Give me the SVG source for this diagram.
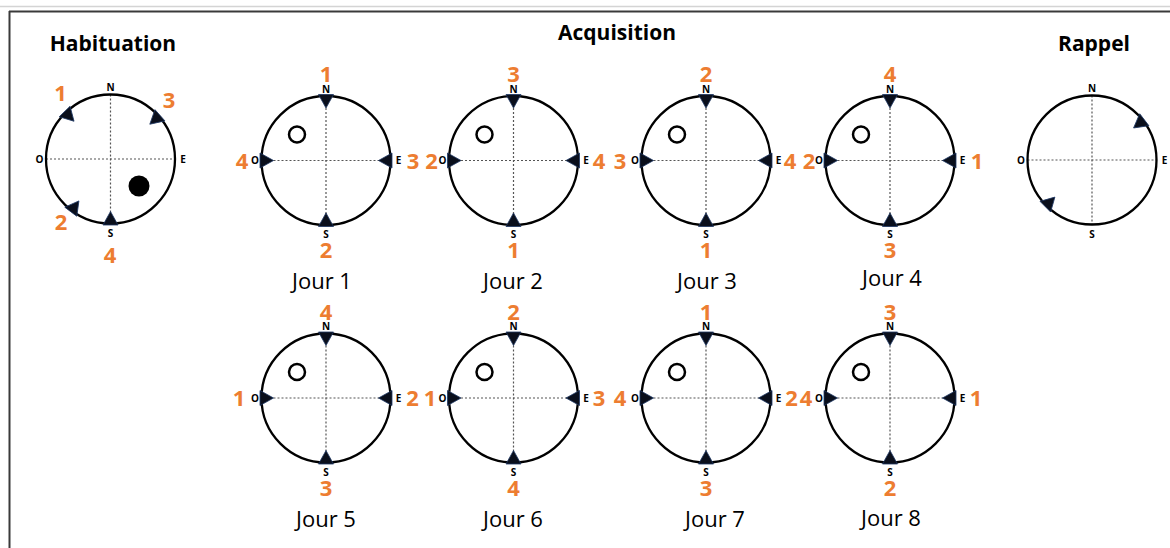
<svg xmlns="http://www.w3.org/2000/svg" xmlns:xlink="http://www.w3.org/1999/xlink" width="1170" height="548" viewBox="0 0 1170 548">
<style>
.ring{fill:none;stroke:#000;stroke-width:2.3}
.cross{stroke:#555;stroke-width:1.2;stroke-dasharray:2 2;fill:none}
.tri{fill:#0a0f1c;stroke:#1f3864;stroke-width:0.8}
.card{font-family:"Open Sans","Liberation Sans",sans-serif;font-weight:bold;font-size:10px;text-anchor:middle;fill:#000}
.num{font-family:"Open Sans","Liberation Sans",sans-serif;font-weight:bold;font-size:22px;text-anchor:middle;fill:#ED7D31}
.title{font-family:"Open Sans","Liberation Sans",sans-serif;font-weight:bold;font-size:21px;text-anchor:middle;fill:#000}
.jour{font-family:"Open Sans","Liberation Sans",sans-serif;font-size:22px;text-anchor:middle;fill:#000}
.goal{fill:#fff;stroke:#000;stroke-width:2.5}
</style>
<defs>
<path id="tri" class="tri" d="M-7.5,-1.5 L7.5,-1.5 L0,12 Z"/>
<g id="compass">
<line class="cross" x1="-64.5" y1="0" x2="64.5" y2="0"/>
<line class="cross" x1="0" y1="-64.5" x2="0" y2="64.5"/>
<circle class="ring" cx="0" cy="0" r="64.5"/>
<text class="card" x="0" y="-68">N</text>
<text class="card" x="0" y="77.5">S</text>
<text class="card" x="-71" y="3.5">O</text>
<text class="card" x="72.5" y="3.5">E</text>
</g>
<g id="arms">
<use xlink:href="#tri" transform="translate(0,-64.5)"/>
<use xlink:href="#tri" transform="rotate(90) translate(0,-64.5)"/>
<use xlink:href="#tri" transform="rotate(180) translate(0,-64.5)"/>
<use xlink:href="#tri" transform="rotate(270) translate(0,-64.5)"/>
<circle class="goal" cx="-29" cy="-26" r="8"/>
</g>
</defs>

<g id="frame">
<line x1="0" y1="6.5" x2="1170" y2="6.5" stroke="#d4d4d4" stroke-width="1.5"/>
<line x1="9" y1="11.5" x2="1170" y2="11.5" stroke="#3a3a3a" stroke-width="2"/>
<line x1="9.5" y1="11" x2="9.5" y2="548" stroke="#3a3a3a" stroke-width="2"/>
</g>

<g id="titles">
<text class="title" x="113" y="50.5">Habituation</text>
<text class="title" x="617" y="40">Acquisition</text>
<text class="title" x="1094" y="51">Rappel</text>
</g>

<g id="habituation">
<g transform="translate(110.5,159)">
<use xlink:href="#compass"/>
<use xlink:href="#tri" transform="rotate(-44) translate(0,-64.5)"/>
<use xlink:href="#tri" transform="rotate(48.5) translate(0,-64.5)"/>
<use xlink:href="#tri" transform="rotate(-143) translate(0,-64.5)"/>
<use xlink:href="#tri" transform="rotate(180) translate(0,-64.5)"/>
<circle cx="28.5" cy="27" r="10.5" fill="#000"/>
</g>
<text class="num" x="60.5" y="100.5">1</text>
<text class="num" x="169" y="108">3</text>
<text class="num" x="61" y="229.5">2</text>
<text class="num" x="110" y="262.5">4</text>
</g>

<g id="rappel">
<g transform="translate(1092,160)">
<use xlink:href="#compass"/>
<use xlink:href="#tri" transform="rotate(52.4) translate(0,-64.5)"/>
<use xlink:href="#tri" transform="rotate(-135) translate(0,-64.5)"/>
</g>
</g>

<g id="jour1">
<g transform="translate(326,160.5)"><use xlink:href="#compass"/><use xlink:href="#arms"/></g>
<text class="num" x="326" y="82">1</text>
<text class="num" x="326" y="258">2</text>
<text class="num" x="242" y="168.5">4</text>
<text class="num" x="413" y="168.5">3</text>
<text class="jour" x="322" y="289">Jour 1</text>
</g>
<g id="jour2">
<g transform="translate(513.5,160.5)"><use xlink:href="#compass"/><use xlink:href="#arms"/></g>
<text class="num" x="513.5" y="82">3</text>
<text class="num" x="513.5" y="258">1</text>
<text class="num" x="431.5" y="168.5">2</text>
<text class="num" x="599" y="168.5">4</text>
<text class="jour" x="513" y="289">Jour 2</text>
</g>
<g id="jour3">
<g transform="translate(706,160.5)"><use xlink:href="#compass"/><use xlink:href="#arms"/></g>
<text class="num" x="706" y="82">2</text>
<text class="num" x="706" y="258">1</text>
<text class="num" x="620" y="168.5">3</text>
<text class="num" x="790" y="168.5">4</text>
<text class="jour" x="707" y="289">Jour 3</text>
</g>
<g id="jour4">
<g transform="translate(890,160.5)"><use xlink:href="#compass"/><use xlink:href="#arms"/></g>
<text class="num" x="890" y="82">4</text>
<text class="num" x="890" y="258">3</text>
<text class="num" x="809" y="168.5">2</text>
<text class="num" x="977" y="168.5">1</text>
<text class="jour" x="892" y="286">Jour 4</text>
</g>
<g id="jour5">
<g transform="translate(326,398)"><use xlink:href="#compass"/><use xlink:href="#arms"/></g>
<text class="num" x="326" y="319.5">4</text>
<text class="num" x="326" y="496">3</text>
<text class="num" x="239" y="406">1</text>
<text class="num" x="412.5" y="406">2</text>
<text class="jour" x="326" y="527">Jour 5</text>
</g>
<g id="jour6">
<g transform="translate(513.5,398)"><use xlink:href="#compass"/><use xlink:href="#arms"/></g>
<text class="num" x="513.5" y="319.5">2</text>
<text class="num" x="513.5" y="496">4</text>
<text class="num" x="430" y="406">1</text>
<text class="num" x="599" y="406">3</text>
<text class="jour" x="513" y="527">Jour 6</text>
</g>
<g id="jour7">
<g transform="translate(706,398)"><use xlink:href="#compass"/><use xlink:href="#arms"/></g>
<text class="num" x="706" y="319.5">1</text>
<text class="num" x="706" y="496">3</text>
<text class="num" x="620" y="406">4</text>
<text class="num" x="791.5" y="406">2</text>
<text class="jour" x="715" y="527">Jour 7</text>
</g>
<g id="jour8">
<g transform="translate(890,398)"><use xlink:href="#compass"/><use xlink:href="#arms"/></g>
<text class="num" x="890" y="319.5">3</text>
<text class="num" x="890" y="496">2</text>
<text class="num" x="806" y="406">4</text>
<text class="num" x="976" y="406">1</text>
<text class="jour" x="891" y="526">Jour 8</text>
</g>
</svg>
